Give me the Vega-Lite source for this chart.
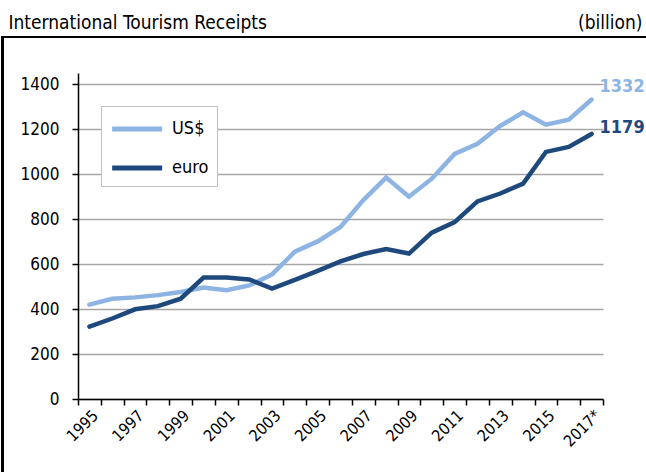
{
  "$schema": "https://vega.github.io/schema/vega-lite/v6.json",
  "width": 525,
  "height": 326,
  "autosize": {"type": "none"},
  "padding": {"left": 78, "top": 73, "right": 43, "bottom": 73},
  "background": "white",
  "config": {
    "view": {"stroke": null},
    "font": "DejaVu Sans Condensed, Liberation Sans, sans-serif",
    "axis": {"labelFont": "DejaVu Sans Condensed, Liberation Sans, sans-serif", "labelColor": "black", "titleFont": "DejaVu Sans Condensed, Liberation Sans, sans-serif"}
  },
  "data": {
    "values": [
      {"year": 1995, "series": "US$", "value": 420},
      {"year": 1996, "series": "US$", "value": 446},
      {"year": 1997, "series": "US$", "value": 452},
      {"year": 1998, "series": "US$", "value": 462},
      {"year": 1999, "series": "US$", "value": 476},
      {"year": 2000, "series": "US$", "value": 496},
      {"year": 2001, "series": "US$", "value": 484},
      {"year": 2002, "series": "US$", "value": 505},
      {"year": 2003, "series": "US$", "value": 554},
      {"year": 2004, "series": "US$", "value": 655},
      {"year": 2005, "series": "US$", "value": 701},
      {"year": 2006, "series": "US$", "value": 765},
      {"year": 2007, "series": "US$", "value": 885},
      {"year": 2008, "series": "US$", "value": 985},
      {"year": 2009, "series": "US$", "value": 900},
      {"year": 2010, "series": "US$", "value": 980},
      {"year": 2011, "series": "US$", "value": 1090},
      {"year": 2012, "series": "US$", "value": 1135},
      {"year": 2013, "series": "US$", "value": 1215},
      {"year": 2014, "series": "US$", "value": 1275},
      {"year": 2015, "series": "US$", "value": 1220},
      {"year": 2016, "series": "US$", "value": 1242},
      {"year": 2017, "series": "US$", "value": 1332},
      {"year": 1995, "series": "euro", "value": 322},
      {"year": 1996, "series": "euro", "value": 358},
      {"year": 1997, "series": "euro", "value": 399},
      {"year": 1998, "series": "euro", "value": 413},
      {"year": 1999, "series": "euro", "value": 446},
      {"year": 2000, "series": "euro", "value": 540},
      {"year": 2001, "series": "euro", "value": 540},
      {"year": 2002, "series": "euro", "value": 532},
      {"year": 2003, "series": "euro", "value": 491},
      {"year": 2004, "series": "euro", "value": 530},
      {"year": 2005, "series": "euro", "value": 570},
      {"year": 2006, "series": "euro", "value": 612},
      {"year": 2007, "series": "euro", "value": 645},
      {"year": 2008, "series": "euro", "value": 667},
      {"year": 2009, "series": "euro", "value": 647},
      {"year": 2010, "series": "euro", "value": 740},
      {"year": 2011, "series": "euro", "value": 787},
      {"year": 2012, "series": "euro", "value": 879},
      {"year": 2013, "series": "euro", "value": 914},
      {"year": 2014, "series": "euro", "value": 958},
      {"year": 2015, "series": "euro", "value": 1099},
      {"year": 2016, "series": "euro", "value": 1121},
      {"year": 2017, "series": "euro", "value": 1179}
    ]
  },
  "layer": [
    {
      "mark": {"type": "line", "strokeWidth": 4.5, "strokeCap": "round", "strokeJoin": "miter"},
      "encoding": {
        "x": {
          "field": "year", "type": "quantitative",
          "scale": {"domain": [1994.5, 2017.5], "nice": false, "zero": false},
          "axis": {
            "orient": "bottom",
            "values": [1994.5, 1995.5, 1996.5, 1997.5, 1998.5, 1999.5, 2000.5, 2001.5, 2002.5, 2003.5, 2004.5, 2005.5, 2006.5, 2007.5, 2008.5, 2009.5, 2010.5, 2011.5, 2012.5, 2013.5, 2014.5, 2015.5, 2016.5, 2017.5],
            "labels": false, "title": null, "grid": false,
            "domainColor": "black", "domainWidth": 1.5,
            "tickColor": "black", "tickWidth": 1.5, "tickSize": 6
          }
        },
        "y": {
          "field": "value", "type": "quantitative",
          "scale": {"domain": [0, 1450], "nice": false},
          "axis": {
            "orient": "left",
            "values": [0, 200, 400, 600, 800, 1000, 1200, 1400],
            "format": "d",
            "title": "(billion)", "titleAngle": 0, "titleAlign": "right", "titleBaseline": "alphabetic",
            "titleX": 564, "titleY": -45, "titleFontSize": 19, "titleFontWeight": "normal", "titleColor": "black",
            "labelFontSize": 17, "labelPadding": 13,
            "domainColor": "black", "domainWidth": 1.5,
            "tickColor": "black", "tickWidth": 1.5, "tickSize": 6,
            "grid": true, "gridColor": "#a6a6a6", "gridWidth": 1.5
          }
        },
        "color": {
          "field": "series", "type": "nominal",
          "scale": {"domain": ["US$", "euro"], "range": ["#8db4e2", "#1f497d"]},
          "legend": {
            "title": null, "orient": "none", "legendX": 23, "legendY": 33,
            "direction": "vertical",
            "strokeColor": "#c0c0c0", "fillColor": "white", "padding": 8,
            "symbolType": "M-0.95,0H3.05", "symbolStrokeWidth": 5, "symbolSize": 625,
            "labelFontSize": 18, "labelColor": "black",
            "rowPadding": 14, "labelOffset": 33
          }
        }
      }
    },
    {
      "transform": [{"filter": "datum.year == 2017 && datum.series == 'US$'"}],
      "mark": {"type": "text", "align": "left", "baseline": "middle", "dx": 8, "dy": -13, "fontSize": 18, "fontWeight": "bold"},
      "encoding": {
        "x": {
          "field": "year", "type": "quantitative",
          "axis": {
            "orient": "bottom",
            "values": [1995, 1997, 1999, 2001, 2003, 2005, 2007, 2009, 2011, 2013, 2015, 2017],
            "format": "d",
            "labelExpr": "datum.value == 2017 ? '2017*' : datum.label",
            "labelAngle": -45, "labelFontSize": 16, "labelPadding": 8,
            "ticks": false, "domain": false, "grid": false, "title": null
          }
        },
        "y": {
          "field": "value", "type": "quantitative",
          "axis": {
            "orient": "left",
            "labels": false, "ticks": false, "domain": false, "grid": false,
            "title": "International Tourism Receipts", "titleAngle": 0, "titleAlign": "left", "titleBaseline": "alphabetic",
            "titleX": -70, "titleY": -45, "titleFontSize": 19, "titleFontWeight": "normal", "titleColor": "black"
          }
        },
        "text": {"field": "value", "type": "quantitative"},
        "color": {"field": "series", "type": "nominal"}
      }
    },
    {
      "transform": [{"filter": "datum.year == 2017 && datum.series == 'euro'"}],
      "mark": {"type": "text", "align": "left", "baseline": "middle", "dx": 8, "dy": -6, "fontSize": 18, "fontWeight": "bold"},
      "encoding": {
        "x": {"field": "year", "type": "quantitative", "axis": null},
        "y": {"field": "value", "type": "quantitative", "axis": null},
        "text": {"field": "value", "type": "quantitative"},
        "color": {"field": "series", "type": "nominal"}
      }
    },
    {
      "mark": {"type": "rect", "fill": null, "stroke": "black", "strokeWidth": 1.5, "clip": false},
      "encoding": {
        "x": {"datum": 1991.2, "type": "quantitative", "axis": null},
        "x2": {"datum": 2030},
        "y": {"datum": 1609, "type": "quantitative", "axis": null},
        "y2": {"datum": -600}
      }
    }
  ],
  "resolve": {"axis": {"x": "independent", "y": "independent"}}
}
